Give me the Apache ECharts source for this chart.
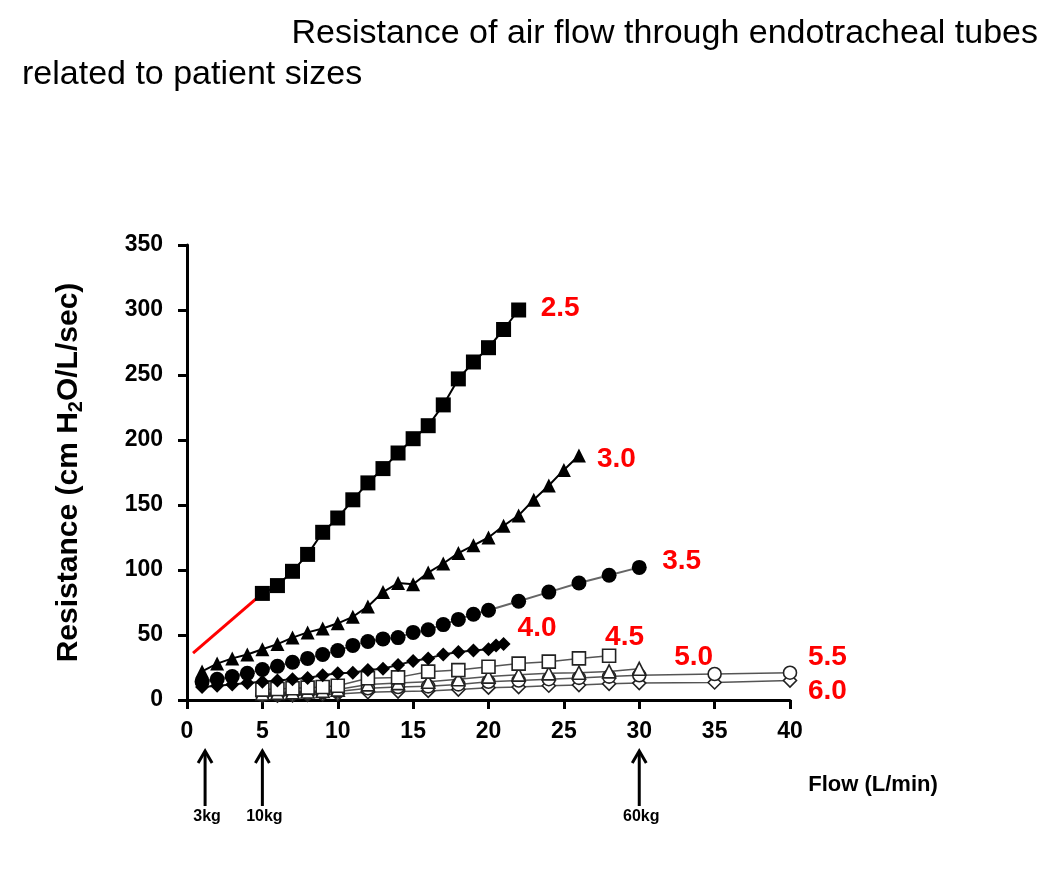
<!DOCTYPE html>
<html>
<head>
<meta charset="utf-8">
<script src="https://cdn.jsdelivr.net/npm/echarts@6/dist/echarts.min.js"></script>
<style>html,body{margin:0;padding:0;background:#fff;}#c{width:1050px;height:878px;}</style>
</head>
<body>
<div id="c"></div>
<script>
// ---- data ----
const xTicks = [0, 5, 10, 15, 20, 25, 30, 35, 40];
const tube25 = [[5,82],[6,88],[7,99],[8,112],[9,129],[10,140],[11,154],[12,167],[13,178],[14,190],[15,201],[16,211],[17,227],[18,247],[19,260],[20,271],[21,285],[22,300]];
const tube30 = [[1,22],[2,28],[3,32],[4,35],[5,39],[6,43],[7,48],[8,52],[9,55],[10,59],[11,64],[12,72],[13,83],[14,90],[15,89],[16,98],[17,105],[18,113],[19,119],[20,125],[21,134],[22,142],[23,154],[24,165],[25,177],[26,188]];
const tube35 = [[1,14],[2,16],[3,18],[4,20.5],[5,23.5],[6,26],[7,29],[8,32],[9,35],[10,38],[11,42],[12,45],[13,47],[14,48],[15,52],[16,54],[17,58],[18,62],[19,66],[20,69],[22,76],[24,83],[26,90],[28,96],[30,102]];
const tube40 = [[1,10],[2,11],[3,12],[4,13],[5,14],[6,15],[7,16],[8,17],[9,19],[10,20.5],[11,21],[12,23],[13,24],[14,27],[15,30],[16,32],[17,35],[18,37],[19,38],[20,39],[20.5,42],[21,43]];
const tube45 = [[5,8],[6,8.5],[7,9],[8,9.5],[9,10],[10,11],[12,16.7],[14,17.4],[16,21.8],[18,23],[20,25.6],[22,28],[24,29.5],[26,32],[28,34]];
const tube50 = [[5,5],[6,5.5],[7,6],[8,6.5],[9,7],[10,8],[12,12],[14,13],[16,14],[18,16],[20,18],[22,19.5],[24,20.5],[26,21],[28,22],[30,24]];
const tube55 = [[5,4],[6,4.5],[7,5],[8,5.5],[9,6],[10,6.5],[12,9],[14,10],[16,10.5],[18,12],[20,14],[22,15],[24,16],[26,17],[28,18],[30,19],[35,20],[40,21]];
const tube60 = [[5,3],[6,3.3],[7,3.6],[8,4],[9,4.3],[10,4.6],[12,6],[14,6.5],[16,7],[18,8],[20,9.5],[22,10],[24,11],[26,11.5],[28,12.5],[30,13],[35,13.5],[40,15]];
const extrapolation = [[0.4,36],[5,82]];
const weightFlows = [1.2, 5, 30];
const weightLabels = ['3kg', '10kg', '60kg'];

const FONT = '"Liberation Sans", Arial, sans-serif';
const chart = echarts.init(document.getElementById('c'), null, {renderer: 'canvas'});

function lbl(ox, oy) {
  return {show: true, formatter: p => p.seriesName, color: '#ff0000', fontSize: 28, fontWeight: 'bold', fontFamily: FONT, distance: 0, offset: [ox, oy]};
}
function openSeries(name, data, symbol, size, label) {
  return {name, type: 'line', data, symbol, symbolSize: size, showAllSymbol: true,
    lineStyle: {color: '#555', width: 1.5}, itemStyle: {color: '#fff', borderColor: '#222', borderWidth: 1.6},
    endLabel: label, z: 2};
}
function filledSeries(name, data, symbol, size, lineColor, label) {
  return {name, type: 'line', data, symbol, symbolSize: size, showAllSymbol: true,
    lineStyle: {color: lineColor, width: 2}, itemStyle: {color: '#000', borderColor: '#000', borderWidth: 0},
    endLabel: label, z: 3};
}

chart.setOption({
  animation: false,
  title: [
    {text: 'Resistance of air flow through endotracheal tubes', right: 7, top: 12,
      textStyle: {fontSize: 34, fontWeight: 'normal', color: '#000', fontFamily: FONT}},
    {text: 'related to patient sizes', left: 17, top: 53,
      textStyle: {fontSize: 34, fontWeight: 'normal', color: '#000', fontFamily: FONT}}
  ],
  grid: {left: 187, right: 260, top: 245, bottom: 178, containLabel: false},
  xAxis: {
    type: 'value', min: 0, max: 40, interval: 5,
    axisLine: {lineStyle: {color: '#000', width: 3}},
    axisTick: {show: true, length: 9, lineStyle: {color: '#000', width: 3}},
    axisLabel: {margin: 20, color: '#000', fontSize: 23, fontWeight: 'bold', fontFamily: FONT,
      formatter: v => xTicks.includes(v) ? String(v) : ''},
    splitLine: {show: false}
  },
  yAxis: {
    type: 'value', min: 0, max: 350, interval: 50,
    name: '{n|Resistance (cm H}{s|2}{n|O/L/sec)}', nameLocation: 'middle', nameGap: 101, nameRotate: 90,
    nameTextStyle: {rich: {
      n: {fontSize: 30, fontWeight: 'bold', color: '#000', fontFamily: FONT},
      s: {fontSize: 20, fontWeight: 'bold', color: '#000', fontFamily: FONT, padding: [15, 0, 0, 0]}
    }},
    axisLine: {show: true, lineStyle: {color: '#000', width: 3}},
    axisTick: {show: true, length: 9, lineStyle: {color: '#000', width: 3}},
    axisLabel: {margin: 24, color: '#000', fontSize: 23, fontWeight: 'bold', fontFamily: FONT},
    splitLine: {show: false}
  },
  series: [
    openSeries('6.0', tube60, 'diamond', 13, lbl(18, 11)),
    openSeries('5.5', tube55, 'circle', 13, lbl(18, -15)),
    openSeries('5.0', tube50, 'triangle', 13, lbl(35, -12)),
    openSeries('4.5', tube45, 'rect', 13, lbl(-4, -19)),
    filledSeries('4.0', tube40, 'diamond', 14, '#111', lbl(14, -16)),
    filledSeries('3.5', tube35, 'circle', 15, '#666', lbl(23, -6)),
    filledSeries('3.0', tube30, 'triangle', 14, '#000', lbl(18, 4)),
    {name: 'extrap', type: 'line', data: extrapolation, symbol: 'none', lineStyle: {color: '#ff0000', width: 3}, z: 1},
    filledSeries('2.5', tube25, 'rect', 15, '#000', lbl(22, -2))
  ]
});

function drawGraphics() {
  const g = [];
  weightFlows.forEach((f, i) => {
    const px = chart.convertToPixel({xAxisIndex: 0}, f);
    g.push({type: 'line', shape: {x1: px, y1: 752, x2: px, y2: 806}, style: {stroke: '#000', lineWidth: 3}});
    g.push({type: 'polyline', shape: {points: [[px - 7, 763], [px, 751], [px + 7, 763]]}, style: {stroke: '#000', lineWidth: 3, fill: null}});
    g.push({type: 'text', x: px + 2, y: 817, style: {text: weightLabels[i], fontSize: 16, fontWeight: 'bold', fontFamily: FONT, fill: '#000', align: 'center', verticalAlign: 'middle'}});
  });
  g.push({type: 'text', x: 873, y: 785, style: {text: 'Flow (L/min)', fontSize: 22, fontWeight: 'bold', fontFamily: FONT, fill: '#000', align: 'center', verticalAlign: 'middle'}});
  chart.setOption({graphic: g});
}
drawGraphics();
</script>
</body>
</html>
